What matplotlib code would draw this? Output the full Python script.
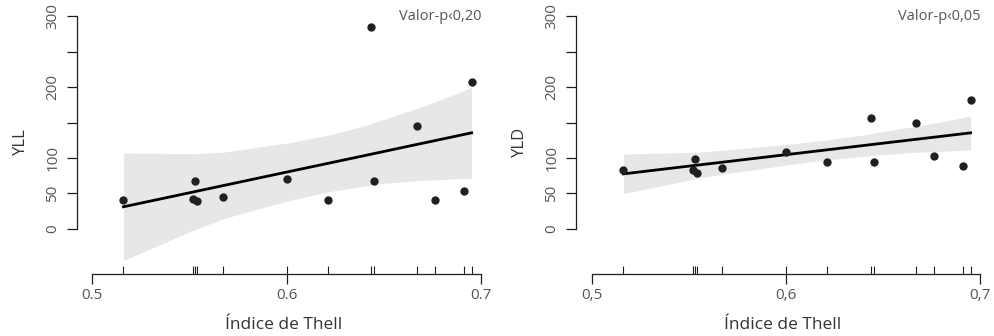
import numpy as np
import matplotlib
matplotlib.use("Agg")
import matplotlib.pyplot as plt

plt.rcParams["font.family"] = ["Open Sans", "DejaVu Sans"]

# Índice de Thell por unidade (mesmo x nos dois painéis)
thell = [0.516, 0.552, 0.553, 0.554, 0.567, 0.600, 0.621, 0.6435, 0.645, 0.667, 0.676, 0.691, 0.695]
yll = [40.4, 42.3, 66.8, 38.6, 44.2, 70.1, 40.9, 284.9, 67.7, 145.7, 40.0, 52.7, 207.3]
yld = [83.4, 83.4, 98.6, 79.1, 85.8, 108.5, 94.3, 155.9, 94.8, 149.8, 103.3, 88.2, 182.0]

# reta ajustada e IC 95%
yll_fit = [31.0, 52.0, 52.6, 53.2, 60.8, 80.1, 92.3, 105.4, 106.3, 119.2, 124.4, 133.2, 135.5]
yll_lo = [-45, -2, -1, 0, 14, 39, 52, 62, 63, 68, 69, 71, 71]
yll_hi = [107, 106, 106, 106, 108, 121, 132, 148, 150, 170, 179, 195, 200]
yld_fit = [77.5, 89.2, 89.5, 89.8, 94.0, 104.7, 111.5, 118.8, 119.3, 126.4, 129.3, 134.2, 135.5]
yld_lo = [49.5, 70, 70.5, 71, 77, 90, 97.5, 103, 104, 108, 109, 111, 111.5]
yld_hi = [105.5, 108, 108.5, 108, 111, 119, 125.5, 134, 135, 145, 149, 157, 159.5]

y_ticks = [0, 50, 100, 150, 200, 250, 300]
y_labels = ["0", "50", "100", "", "200", "", "300"]
x_ticks = [0.5, 0.6, 0.7]

panels = [
    ("YLL", yll, yll_fit, yll_lo, yll_hi, ["0.5", "0.6", "0.7"], "Valor-p\u20390,20",
     [77 / 995, 0.1845, 414 / 995, 0.7855], 0.4921),
    ("YLD", yld, yld_fit, yld_lo, yld_hi, ["0,5", "0,6", "0,7"], "Valor-p\u20390,05",
     [576 / 995, 0.1845, 414 / 995, 0.7855], 0.4916),
]

tick_col = "#555555"
ink = "#231f20"

fig = plt.figure(figsize=(9.95, 3.36), dpi=100)

for ylab, yv, fit, lo, hi, xlabs, ptxt, rect, xmin in panels:
    ax = fig.add_axes(rect)
    ax.fill_between(thell, lo, hi, color="#e6e7e8", lw=0, zorder=1)
    ax.plot(thell, fit, color="black", lw=2.0, zorder=2)
    ax.scatter(thell, yv, s=36, color=ink, zorder=3, lw=0)

    ax.set_xlim(xmin, 0.705)
    ax.set_ylim(-64, 309)
    for s in ["top", "right"]:
        ax.spines[s].set_visible(False)
    ax.spines["left"].set_bounds(0, 300)
    ax.spines["bottom"].set_bounds(0.5, 0.7)
    for s in ["left", "bottom"]:
        ax.spines[s].set_linewidth(0.9)
        ax.spines[s].set_color(ink)

    ax.set_yticks(y_ticks)
    ax.set_yticklabels(y_labels, rotation=90, va="center")
    ax.set_xticks(x_ticks)
    ax.set_xticklabels(xlabs)
    # rug com os valores de x
    ax.xaxis.remove_overlapping_locs = False
    ax.set_xticks(thell, minor=True)
    ax.tick_params(axis="x", which="minor", direction="in", length=6, width=0.8, color=ink)
    ax.tick_params(axis="both", which="major", direction="out", length=7, width=0.9, color=ink,
                   labelsize=11, labelcolor=tick_col)
    ax.tick_params(axis="y", pad=5)
    ax.tick_params(axis="x", which="major", pad=3)

    ax.set_ylabel(ylab, fontsize=12, color="#333333", labelpad=12)
    ax.set_xlabel("Índice de Thell", fontsize=12.5, color="#333333", labelpad=10)
    ax.text(0.7, 300, ptxt, ha="right", va="center", fontsize=10.5, color=tick_col)

fig.savefig("out.png", dpi=100)
